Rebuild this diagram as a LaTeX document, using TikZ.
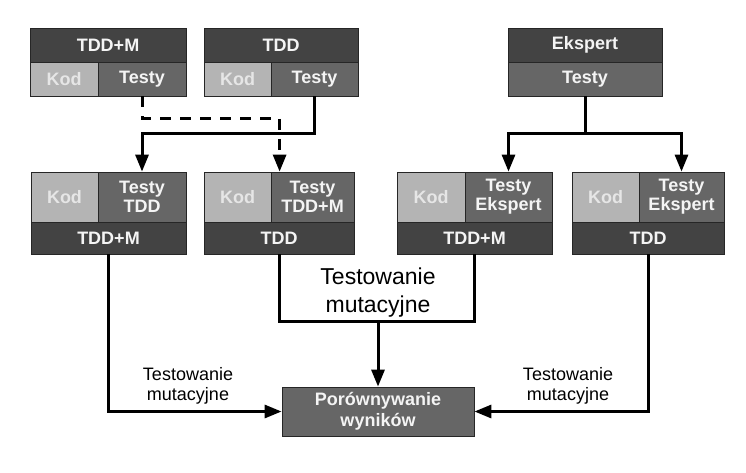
\documentclass[tikz,border=0pt]{standalone}
\usepackage{fontspec}
\setmainfont{Liberation Sans}
\usetikzlibrary{arrows.meta,calc}
\definecolor{hdr}{HTML}{434343}
\definecolor{tst}{HTML}{666666}
\definecolor{kod}{HTML}{B4B4B4}
\definecolor{kodtxt}{HTML}{E6E6E6}
\definecolor{celltxt}{HTML}{F4F4F4}
\tikzset{
  cell/.style={draw=black!85, line width=0.8pt, inner sep=0pt, align=center,
    text=celltxt, font=\fontsize{18}{19}\selectfont\bfseries},
  hdrcell/.style={cell, fill=hdr},
  tstcell/.style={cell, fill=tst},
  kodcell/.style={cell, fill=kod, text=kodtxt},
  sz/.style 2 args={minimum width=#1pt, minimum height=#2pt},
  wire/.style={line width=3pt},
  conn/.style={wire, -{Triangle[length=17pt,width=13pt]}},
  dashconn/.style={conn, dash pattern=on 11pt off 9pt},
  lbl/.style={font=\fontsize{18}{20}\selectfont, align=center},
  biglbl/.style={font=\fontsize{23}{28}\selectfont, align=center},
}
\begin{document}
\begin{tikzpicture}[x=1pt,y=-1pt]
\useasboundingbox (0,0) rectangle (746,472);

% ---- top row: sources of code and tests ----
\node[hdrcell, sz={156}{34}] (aH) at (108,45) {TDD+M};
\node[kodcell, sz={68}{34}]  (aK) at (64,79)  {Kod};
\node[tstcell, sz={88}{34}]  (aT) at (142,79) {Testy};

\node[hdrcell, sz={154}{34}] (bH) at (281,45)   {TDD};
\node[kodcell, sz={67}{34}]  (bK) at (237.5,79) {Kod};
\node[tstcell, sz={87}{34}]  (bT) at (314.5,79) {Testy};

\node[hdrcell, sz={154}{34}] (eH) at (585,45) {Ekspert};
\node[tstcell, sz={154}{34}] (eT) at (585,79) {Testy};

% ---- second row: code/test combinations ----
\node[kodcell, sz={67}{50}]  (c1K) at (64.5,197) {Kod};
\node[tstcell, sz={88}{50}]  (c1T) at (142,197)  {Testy\\TDD};
\node[hdrcell, sz={155}{32}] (c1F) at (108.5,238) {TDD+M};

\node[kodcell, sz={67}{50}]  (c2K) at (237.5,197) {Kod};
\node[tstcell, sz={83}{50}]  (c2T) at (312.5,197) {Testy\\TDD+M};
\node[hdrcell, sz={150}{32}] (c2F) at (279,238)   {TDD};

\node[kodcell, sz={68}{50}]  (c3K) at (431,197)   {Kod};
\node[tstcell, sz={87}{50}]  (c3T) at (508.5,197) {Testy\\Ekspert};
\node[hdrcell, sz={155}{32}] (c3F) at (474.5,238) {TDD+M};

\node[kodcell, sz={67}{50}]  (c4K) at (605.5,197) {Kod};
\node[tstcell, sz={85}{50}]  (c4T) at (681.5,197) {Testy\\Ekspert};
\node[hdrcell, sz={152}{32}] (c4F) at (648,238)   {TDD};

% ---- result comparison ----
\node[tstcell, sz={192}{49}, font=\fontsize{18}{21}\selectfont\bfseries] (cmp) at (378,411.5) {Porównywanie\\wyników};

% ---- test transfers ----
\draw[dashconn] (aT.south) -- ++(0,22) -| ($(c2T.north west)+(9,0)$);
\draw[conn] (bT.south) -- ++(0,37) -| (c1T.north);
\draw[conn] (eT.south) -- ++(0,37) -| (c3T.north);
\draw[conn] (eT.south) -- ++(0,37) -| (c4T.north);

% ---- mutation testing ----
\draw[wire] (c2F.south) -- ++(0,67) -| (c3F.south);
\coordinate (mid) at ($(c2F.south)!0.5!(c3F.south)+(0,67)$);
\draw[conn] (mid -| cmp.north) -- (cmp.north);
\node[biglbl] (mlab) at (378,293) {Testowanie\\mutacyjne};

\draw[conn] (c1F.south) |- (cmp.west);
\draw[conn] (c4F.south) |- (cmp.east);
\node[lbl] (llab) at (188,386) {Testowanie\\mutacyjne};
\node[lbl] (rlab) at (568,386) {Testowanie\\mutacyjne};
\end{tikzpicture}
\end{document}
